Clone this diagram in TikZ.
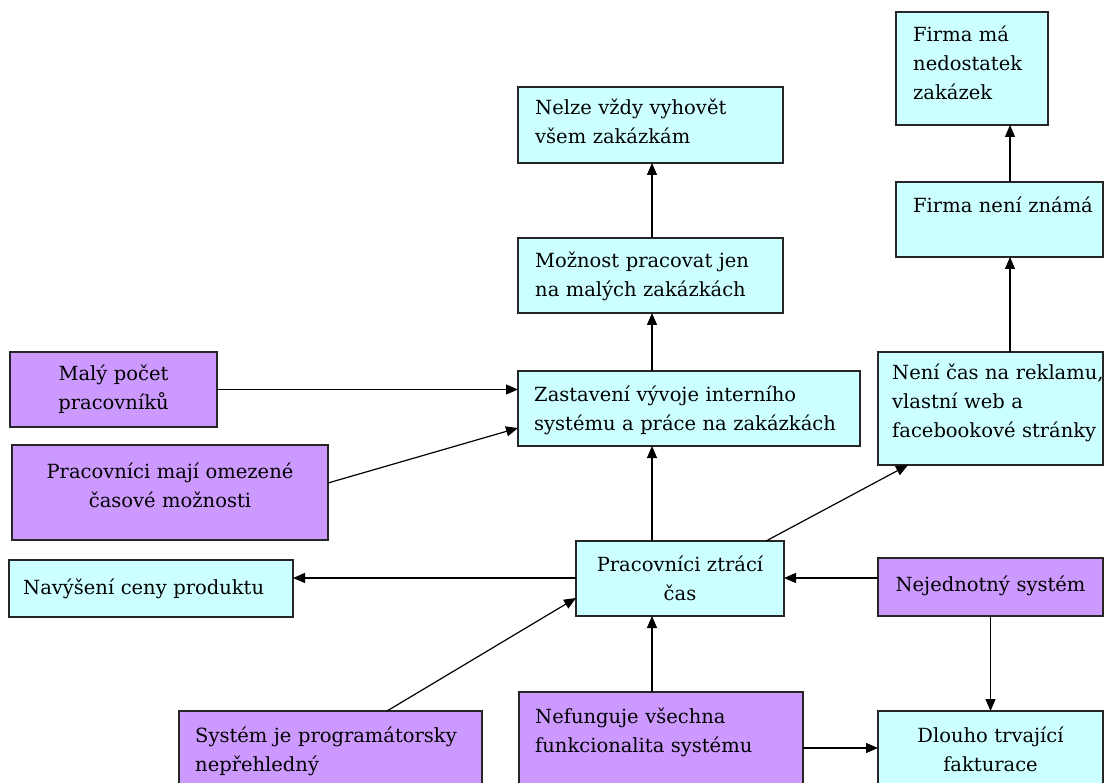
\documentclass[tikz,border=0pt]{standalone}
\usepackage{fontspec}
\setmainfont{DejaVu Serif}
\usetikzlibrary{arrows.meta,calc}
\definecolor{cyanbox}{HTML}{CCFFFF}
\definecolor{purplebox}{HTML}{CC99FF}
\definecolor{edgecol}{HTML}{262626}
\begin{document}
\begin{tikzpicture}[x=1pt,y=-1pt,
  boxbase/.style={draw=edgecol, line width=1.3pt, anchor=north west, inner sep=0pt, outer sep=0pt},
  cy/.style={boxbase, fill=cyanbox},
  pu/.style={boxbase, fill=purplebox},
  lbl/.style={inner sep=0pt, font=\fontsize{19.5pt}{29pt}\selectfont, anchor=base west, align=left, text width=#1},
  clbl/.style={inner sep=0pt, font=\fontsize{19.5pt}{29pt}\selectfont, anchor=base, align=center, text width=#1},
  arr/.style={draw=black, line width=1.2pt, -{Triangle[length=12pt,width=10pt]}}
]
\useasboundingbox (0,0) rectangle (1105,783);
\fill[white] (0,0) rectangle (1105,783);
\clip (0,0) rectangle (1105,783);

% boxes
\node[cy, minimum width=152pt, minimum height=113pt] (A) at (896,12) {};
\node[cy, minimum width=207pt, minimum height=75pt]  (B) at (896,182) {};
\node[cy, minimum width=265pt, minimum height=76pt]  (C) at (518,87) {};
\node[cy, minimum width=265pt, minimum height=75pt]  (D) at (518,238) {};
\node[pu, minimum width=207pt, minimum height=75pt]  (E) at (10,352) {};
\node[cy, minimum width=342pt, minimum height=75pt]  (F) at (518,371) {};
\node[cy, minimum width=225pt, minimum height=113pt] (G) at (878,352) {};
\node[pu, minimum width=316pt, minimum height=95pt]  (H) at (12,445) {};
\node[cy, minimum width=208pt, minimum height=75pt]  (I) at (576,541) {};
\node[cy, minimum width=284pt, minimum height=57pt]  (J) at (9,560) {};
\node[pu, minimum width=225pt, minimum height=58pt]  (K) at (878,558) {};
\node[pu, minimum width=303pt, minimum height=90pt]  (L) at (179,711) {};
\node[pu, minimum width=284pt, minimum height=110pt] (M) at (519,692) {};
\node[cy, minimum width=225pt, minimum height=90pt]  (N) at (878,711) {};

% texts
\node[lbl=130pt] (At) at ($(A.north west)+(17,30)$) {Firma má\\nedostatek\\zakázek};
\node[lbl=185pt] (Bt) at ($(B.north west)+(17,31)$) {Firma není známá};
\node[lbl=240pt] (Ct) at ($(C.north west)+(17,28)$) {Nelze vždy vyhovět\\všem zakázkám};
\node[lbl=240pt] (Dt) at ($(D.north west)+(17,30)$) {Možnost pracovat jen\\na malých zakázkách};
\node[clbl=200pt] (Et) at ($(E.north)+(0,28)$) {Malý počet\\pracovníků};
\node[lbl=320pt] (Ft) at ($(F.north west)+(16,30)$) {Zastavení vývoje interního\\systému a práce na zakázkách};
\node[lbl=215pt] (Gt) at ($(G.north west)+(14,27)$) {Není čas na reklamu,\\vlastní web a\\facebookové stránky};
\node[clbl=300pt] (Ht) at ($(H.north)+(0,33)$) {Pracovníci mají omezené\\časové možnosti};
\node[clbl=200pt] (It) at ($(I.north)+(0,30)$) {Pracovníci ztrácí\\čas};
\node[lbl=260pt] (Jt) at ($(J.north west)+(14,34)$) {Navýšení ceny produktu};
\node[clbl=215pt] (Kt) at ($(K.north)+(0,33)$) {Nejednotný systém};
\node[lbl=280pt] (Lt) at ($(L.north west)+(16,31)$) {Systém je programátorsky\\nepřehledný};
\node[lbl=260pt] (Mt) at ($(M.north west)+(16,31)$) {Nefunguje všechna\\funkcionalita systému};
\node[clbl=215pt] (Nt) at ($(N.north)+(0,31)$) {Dlouho trvající\\fakturace};

% helper coordinates
\coordinate (cx1010) at (1010,0);
\coordinate (cx652) at (652,0);
\coordinate (cy578) at (0,578);
\coordinate (cy748) at (0,748);

% connectors
\draw[arr] (B.north -| cx1010) -- (A.south -| cx1010);
\draw[arr] (G.north -| cx1010) -- (B.south -| cx1010);
\draw[arr] (D.north -| cx652) -- (C.south -| cx652);
\draw[arr] (F.north -| cx652) -- (D.south -| cx652);
\draw[arr] (I.north -| cx652) -- (F.south -| cx652);
\draw[arr] (M.north -| cx652) -- (I.south -| cx652);
\draw[arr] (E.east) -- (E.east -| F.west);
\draw[arr] ($(H.north east)+(0,38)$) -- ($(F.north west)+(0,57)$);
\draw[arr] ($(I.north west)+(190,0)$) -- ($(G.south west)+(30,0)$);
\draw[arr] (I.west |- cy578) -- (J.east |- cy578);
\draw[arr] (K.west |- cy578) -- (I.east |- cy578);
\draw[arr] ($(L.north west)+(208,0)$) -- ($(I.north west)+(0,57)$);
\draw[arr] (K.south) -- (N.north);
\draw[arr] (M.east |- cy748) -- (N.west |- cy748);
\end{tikzpicture}
\end{document}
